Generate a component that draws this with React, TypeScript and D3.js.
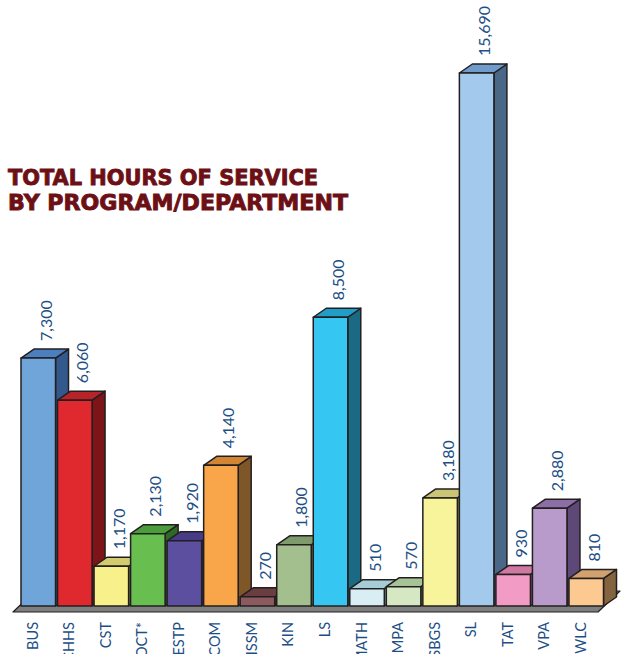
import React from "react";
import * as d3 from "d3";

const categories = ["BUS","CHHS","CST","DOCT*","ESTP","COM","ISSM","KIN","LS","MATH","MPA","SBGS","SL","TAT","VPA","WLC"];
const values = [7300,6060,1170,2130,1920,4140,270,1800,8500,510,570,3180,15690,930,2880,810];
const valueLabels = ["7,300","6,060","1,170","2,130","1,920","4,140","270","1,800","8,500","510","570","3,180","15,690","930","2,880","810"];
const frontColors = ["#6fa5d9","#e0282f","#f8f18b","#69be50","#5d4f9f","#f9a64b","#8c5a5e","#a3bf8d","#35c6f1","#d8eef4","#d5e8c3","#f8f49b","#a3c9ec","#f29bc4","#b89bcb","#fcca90"];
const topColors = ["#4c7fc0","#b8232a","#d2cc6f","#4b9c3a","#483c86","#d28533","#6a3d41","#7f9a6b","#1f9ec8","#a6ccd6","#a6c398","#c9c574","#6f9cca","#cf78a2","#8c6ea6","#d1a26f"];
const sideColors = ["#33588b","#7c1418","#9c9750","#2e6a25","#322858","#7f5628","#4a2a2d","#5c7250","#1a6a83","#7ea0a8","#7c9570","#959250","#4a6788","#985478","#5e4878","#84643f"];
const titleLines = ["TOTAL HOURS OF SERVICE","BY PROGRAM/DEPARTMENT"];

const W = 630, H = 654;
const BASE = 606;
const DX = 13, DY = -9;

export default function App() {
  const x = d3.scaleBand<string>().domain(categories).range([21, 603.5]).paddingInner(0.055).paddingOuter(0);
  const y = d3.scaleLinear().domain([0, 15690]).range([BASE, 73]);
  const bw = x.bandwidth();
  const labelColor = "#1d4f86";
  const stroke = "#231f20";
  const floor = [[13,612],[598,612],[620,591],[35,591]];
  const line = d3.line();

  return (
    <svg width={W} height={H} style={{position:"absolute",left:0,top:0,background:"#fff"}}>
      <path d={line(floor as [number,number][])! + "Z"} fill="#7f7f7f" stroke={stroke} strokeWidth={1.2} strokeLinejoin="round"/>
      {categories.map((c, i) => {
        const x0 = x(c)!;
        const x1 = x0 + bw;
        const yt = y(values[i]);
        const front = `M${x0},${yt}H${x1}V${BASE}H${x0}Z`;
        const top = `M${x0},${yt}L${x0+DX},${yt+DY}H${x1+DX}L${x1},${yt}Z`;
        const side = `M${x1},${yt}L${x1+DX},${yt+DY}V${BASE+DY}L${x1},${BASE}Z`;
        return (
          <g key={c}>
            <path d={side} fill={sideColors[i]} stroke={stroke} strokeWidth={1.5} strokeLinejoin="round"/>
            <path d={top} fill={topColors[i]} stroke={stroke} strokeWidth={1.5} strokeLinejoin="round"/>
            <path d={front} fill={frontColors[i]} stroke={stroke} strokeWidth={1.5} strokeLinejoin="round"/>
          </g>
        );
      })}
      {categories.map((c, i) => {
        const cx = x(c)! + bw / 2 + 7;
        const yy = y(values[i]) - 17;
        return (
          <text key={"v"+c} transform={`translate(${cx},${yy}) rotate(-90)`} fontFamily="Lato, 'Open Sans', sans-serif" fontSize={16} fill={labelColor} dominantBaseline="central">{valueLabels[i]}</text>
        );
      })}
      {categories.map((c) => {
        const cx = x(c)! + bw / 2 - 6;
        return (
          <text key={"c"+c} transform={`translate(${cx},622) rotate(-90)`} fontFamily="Lato, 'Open Sans', sans-serif" fontSize={14.5} fill={labelColor} textAnchor="end" dominantBaseline="central" textLength={c.length > 3 ? undefined : undefined}>{c}</text>
        );
      })}
      {titleLines.map((t, i) => (
        <text key={t} x={8} y={185 + i * 25} fontFamily="'DejaVu Sans', sans-serif" fontWeight="bold" fontSize={22} fill="#6c1016" stroke="#6c1016" strokeWidth={0.9} textLength={i === 0 ? 310 : 340} lengthAdjust="spacingAndGlyphs">{t}</text>
      ))}
    </svg>
  );
}
